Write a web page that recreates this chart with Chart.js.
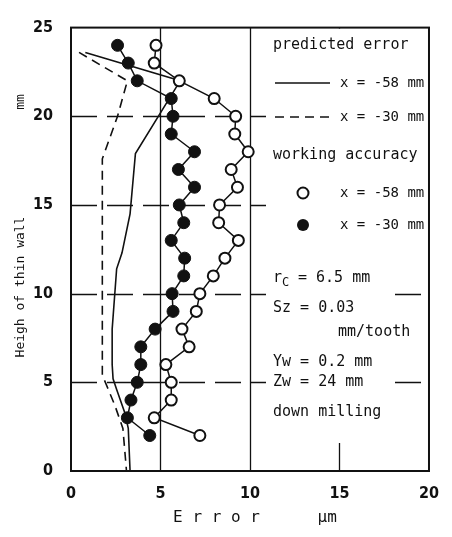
<!DOCTYPE html>
<html>
<head>
<meta charset="utf-8">
<script src="https://cdn.jsdelivr.net/npm/chart.js@4.4.1/dist/chart.umd.min.js"></script>
<style>
  html, body { margin: 0; padding: 0; background: #fff; }
  #wrap { width: 452px; height: 537px; }
</style>
</head>
<body>
<div id="wrap"><canvas id="errChart" width="452" height="537"></canvas></div>
<script>
// Measured heights (mm) for the working accuracy series
const heights = [24, 23, 22, 21, 20, 19, 18, 17, 16, 15, 14, 13, 12, 11, 10, 9, 8, 7, 6, 5, 4, 3, 2];
// Working accuracy, x = -58 mm (open circles), error in um
const work58 = [4.75, 4.65, 6.05, 8.0, 9.2, 9.15, 9.9, 8.95, 9.3, 8.3, 8.25, 9.35, 8.6, 7.95, 7.2, 7.0, 6.2, 6.6, 5.3, 5.6, 5.6, 4.65, 7.2];
// Working accuracy, x = -30 mm (filled circles)
const work30 = [2.6, 3.2, 3.7, 5.6, 5.7, 5.6, 6.9, 6.0, 6.9, 6.05, 6.3, 5.6, 6.35, 6.3, 5.65, 5.7, 4.7, 3.9, 3.9, 3.7, 3.35, 3.15, 4.4];

// Predicted error curves (vertices)
const pred58H = [23.6, 22.0, 17.9, 14.5, 12.3, 11.4, 8.0, 6.0, 5.2, 4.6, 3.3, 2.4, 0];
const pred58E = [0.8, 6.1, 3.6, 3.3, 2.85, 2.55, 2.3, 2.3, 2.35, 2.55, 3.0, 3.2, 3.3];
const pred30H = [23.6, 22.0, 20.0, 17.6, 5.4, 5.0, 3.7, 2.4, 0];
const pred30E = [0.45, 3.15, 2.6, 1.75, 1.75, 1.92, 2.45, 2.9, 3.1];

const xTicks = [0, 5, 10, 15, 20];
const yTicks = [0, 5, 10, 15, 20, 25];

function pts(xs, ys) {
  return xs.map((v, i) => ({ x: v, y: ys[i] }));
}

const monoFont = "DejaVu Sans Mono";
const numFont = "DejaVu Sans Condensed";

// grid lines, frame, titles and the text block on the right
const decorPlugin = {
  id: "decor",
  beforeDatasetsDraw(chart) {
    const ctx = chart.ctx;
    const a = chart.chartArea;
    const xs = chart.scales.x;
    const ys = chart.scales.y;
    ctx.save();
    ctx.strokeStyle = "#111";
    ctx.lineWidth = 1.3;
    [5, 10, 15].forEach((v) => {
      const px = Math.round(xs.getPixelForValue(v)) + 0.5;
      ctx.beginPath();
      ctx.moveTo(px, a.top);
      ctx.lineTo(px, a.bottom);
      ctx.stroke();
    });
    ctx.setLineDash([26, 10]);
    [5, 10, 15, 20].forEach((v) => {
      const py = Math.round(ys.getPixelForValue(v)) + 0.5;
      ctx.beginPath();
      ctx.moveTo(a.left, py);
      ctx.lineTo(a.right, py);
      ctx.stroke();
    });
    ctx.setLineDash([]);
    // white panel behind the notes
    ctx.fillStyle = "#fff";
    ctx.fillRect(266, a.top + 1, a.right - 268, 262 - a.top);
    ctx.fillRect(266, 262, 127, 443 - 262);
    ctx.restore();
  },
  afterDraw(chart) {
    const ctx = chart.ctx;
    const a = chart.chartArea;
    ctx.save();
    ctx.strokeStyle = "#111";
    ctx.lineWidth = 2;
    ctx.strokeRect(a.left, a.top, a.right - a.left, a.bottom - a.top);

    ctx.fillStyle = "#111";
    // axis titles
    ctx.font = "16px " + monoFont;
    ctx.textAlign = "center";
    ctx.textBaseline = "middle";
    ctx.fillText("E r r o r      \u00b5m", 255, 518);

    ctx.save();
    ctx.translate(21, 287);
    ctx.rotate(-Math.PI / 2);
    ctx.font = "13px " + monoFont;
    ctx.fillText("Heigh of thin wall", 0, 0);
    ctx.restore();
    ctx.save();
    ctx.translate(21, 102);
    ctx.rotate(-Math.PI / 2);
    ctx.font = "13px " + monoFont;
    ctx.fillText("mm", 0, 0);
    ctx.restore();

    // notes / legend
    const big = "15px " + monoFont;
    const small = "14px " + monoFont;
    ctx.textAlign = "left";
    ctx.font = big;
    ctx.fillText("predicted error", 273, 45);
    ctx.lineWidth = 1.5;
    ctx.beginPath();
    ctx.moveTo(275, 83);
    ctx.lineTo(330, 83);
    ctx.stroke();
    ctx.font = small;
    ctx.fillText("x = -58 mm", 340, 83);
    ctx.setLineDash([9, 6]);
    ctx.beginPath();
    ctx.moveTo(275, 117);
    ctx.lineTo(330, 117);
    ctx.stroke();
    ctx.setLineDash([]);
    ctx.fillText("x = -30 mm", 340, 117);

    ctx.font = big;
    ctx.fillText("working accuracy", 273, 155);
    ctx.lineWidth = 2;
    ctx.beginPath();
    ctx.arc(303, 193, 5.5, 0, Math.PI * 2);
    ctx.fillStyle = "#fff";
    ctx.fill();
    ctx.stroke();
    ctx.fillStyle = "#111";
    ctx.font = small;
    ctx.fillText("x = -58 mm", 340, 193);
    ctx.beginPath();
    ctx.arc(303, 225, 6, 0, Math.PI * 2);
    ctx.fill();
    ctx.fillText("x = -30 mm", 340, 225);

    ctx.font = big;
    ctx.fillText("r", 273, 278);
    ctx.font = "12px " + monoFont;
    ctx.fillText("C", 282, 283);
    ctx.font = big;
    ctx.fillText("= 6.5 mm", 298, 278);
    ctx.fillText("Sz = 0.03", 273, 308);
    ctx.fillText("mm/tooth", 338, 332);
    ctx.fillText("Yw = 0.2 mm", 273, 362);
    ctx.fillText("Zw = 24 mm", 273, 382);
    ctx.fillText("down milling", 273, 412);
    ctx.restore();
  },
};

const ctx = document.getElementById("errChart").getContext("2d");
new Chart(ctx, {
  type: "scatter",
  data: {
    datasets: [
      {
        label: "working accuracy x = -30 mm",
        data: pts(work30, heights),
        showLine: true,
        borderColor: "#111",
        borderWidth: 1.5,
        pointRadius: 6,
        pointBackgroundColor: "#111",
        pointBorderColor: "#111",
        pointBorderWidth: 1,
      },
      {
        label: "working accuracy x = -58 mm",
        data: pts(work58, heights),
        showLine: true,
        borderColor: "#111",
        borderWidth: 1.5,
        pointRadius: 5.5,
        pointBackgroundColor: "#fff",
        pointBorderColor: "#111",
        pointBorderWidth: 2,
      },
      {
        label: "predicted x = -58 mm",
        data: pts(pred58E, pred58H),
        showLine: true,
        borderColor: "#111",
        borderWidth: 1.6,
        pointRadius: 0,
      },
      {
        label: "predicted x = -30 mm",
        data: pts(pred30E, pred30H),
        showLine: true,
        borderColor: "#111",
        borderWidth: 1.6,
        borderDash: [9, 6],
        pointRadius: 0,
      },
    ],
  },
  options: {
    responsive: false,
    animation: false,
    layout: { padding: { top: 15, right: 13, bottom: 0, left: 0 } },
    plugins: {
      legend: { display: false },
      tooltip: { enabled: false },
    },
    scales: {
      x: {
        type: "linear",
        min: 0,
        max: 20,
        afterBuildTicks: (axis) => {
          axis.ticks = xTicks.map((v) => ({ value: v }));
        },
        afterFit: (axis) => {
          axis.height = 66;
        },
        grid: { display: false, drawTicks: false },
        border: { display: false },
        ticks: {
          color: "#111",
          padding: 13,
          font: { family: numFont, size: 16, weight: "bold" },
        },
      },
      y: {
        type: "linear",
        min: 0,
        max: 25,
        afterBuildTicks: (axis) => {
          axis.ticks = yTicks.map((v) => ({ value: v }));
        },
        afterFit: (axis) => {
          axis.width = 71;
        },
        grid: { display: false, drawTicks: false },
        border: { display: false },
        ticks: {
          color: "#111",
          padding: 18,
          font: { family: numFont, size: 16, weight: "bold" },
        },
      },
    },
  },
  plugins: [decorPlugin],
});
</script>
</body>
</html>
